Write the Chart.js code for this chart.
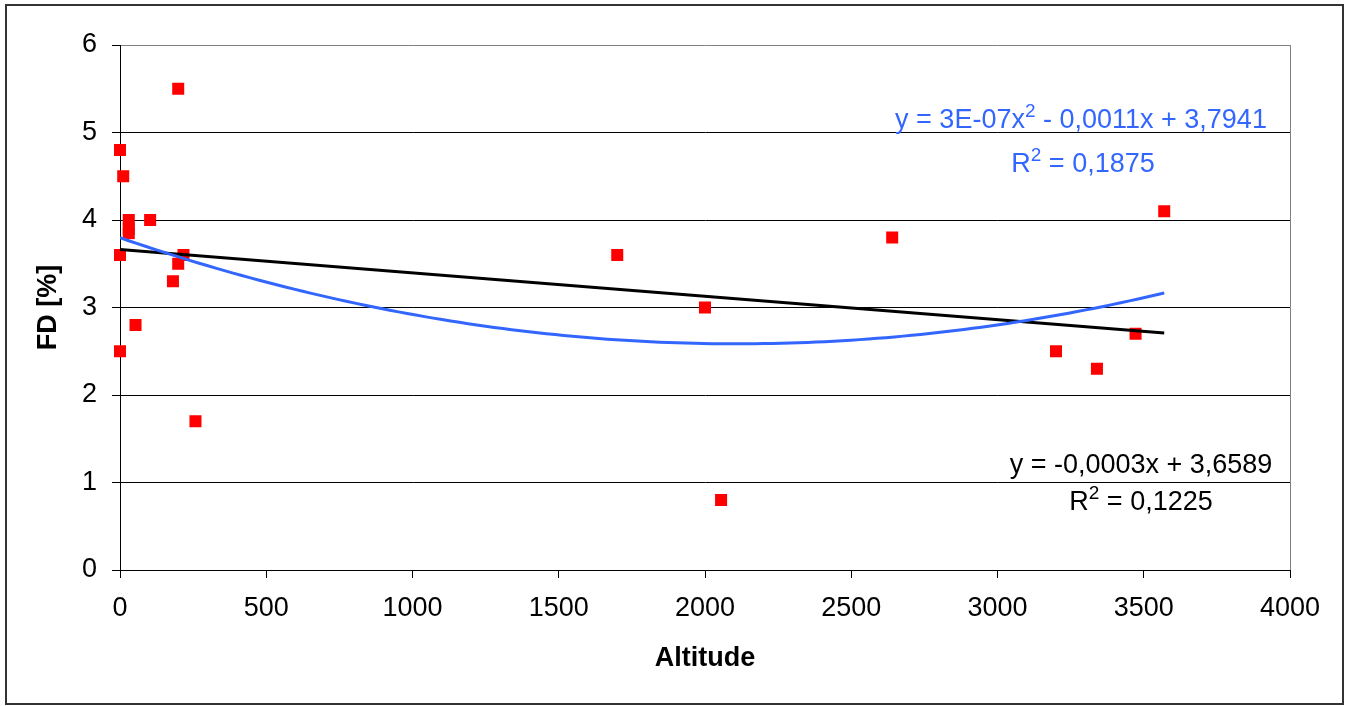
<!DOCTYPE html>
<html>
<head>
<meta charset="utf-8">
<script src="https://cdn.jsdelivr.net/npm/chart.js@4/dist/chart.umd.min.js"></script>
<style>
  html, body { margin: 0; padding: 0; background: #fff; overflow: hidden; }
  #wrap { width: 1349px; height: 706px; position: relative; }
</style>
</head>
<body>
<div id="wrap"><canvas id="chart" width="1349" height="706"></canvas></div>
<script>
// Observations: altitude (m) and FD (%)
const altitude = [0, 11, 30, 30, 30, 103, 0, 217, 199, 181, 53, 0, 258, 199,
                  1700, 2000, 2055, 2640, 3200, 3340, 3472, 3570];
const fdValues = [4.8, 4.5, 4.0, 3.9, 3.85, 4.0, 3.6, 3.6, 3.5, 3.3, 2.8, 2.5, 1.7, 5.5,
                  3.6, 3.0, 0.8, 3.8, 2.5, 2.3, 2.7, 4.1];

// Axis ranges and steps
const xRange = [0, 4000];
const xStep = 500;
const yRange = [0, 6];
const yStep = 1;

// Trendline equation labels (segments: [text, isSuperscript])
const polyEquation = [['y = 3E-07x', false], ['2', true], [' - 0,0011x + 3,7941', false]];
const polyR2 = [['R', false], ['2', true], [' = 0,1875', false]];
const linEquation = [['y = -0,0003x + 3,6589', false]];
const linR2 = [['R', false], ['2', true], [' = 0,1225', false]];

const FONT = "'Liberation Sans', Arial, sans-serif";
const BLUE = '#3366FF';

// Least-squares straight line
function linearFit(xs, ys) {
  const n = xs.length;
  let sx = 0, sy = 0, sxx = 0, sxy = 0;
  for (let i = 0; i < n; i++) {
    sx += xs[i]; sy += ys[i]; sxx += xs[i] * xs[i]; sxy += xs[i] * ys[i];
  }
  const m = (n * sxy - sx * sy) / (n * sxx - sx * sx);
  const b = (sy - m * sx) / n;
  return x => m * x + b;
}

// Least-squares second-order polynomial (x scaled to thousands for stability)
function quadFit(xs, ys) {
  const s = 1000;
  const S = [0, 0, 0, 0, 0];
  const T = [0, 0, 0];
  for (let i = 0; i < xs.length; i++) {
    const u = xs[i] / s;
    let p = 1;
    for (let k = 0; k < 5; k++) { S[k] += p; if (k < 3) T[k] += p * ys[i]; p *= u; }
  }
  const A = [[S[0], S[1], S[2], T[0]], [S[1], S[2], S[3], T[1]], [S[2], S[3], S[4], T[2]]];
  for (let c = 0; c < 3; c++) {
    for (let r = c + 1; r < 3; r++) {
      const f = A[r][c] / A[c][c];
      for (let k = c; k < 4; k++) A[r][k] -= f * A[c][k];
    }
  }
  const coef = [0, 0, 0];
  for (let r = 2; r >= 0; r--) {
    let v = A[r][3];
    for (let k = r + 1; k < 3; k++) v -= A[r][k] * coef[k];
    coef[r] = v / A[r][r];
  }
  return x => { const u = x / s; return coef[0] + coef[1] * u + coef[2] * u * u; };
}

const xMin = Math.min(...altitude);
const xMax = Math.max(...altitude);
const lin = linearFit(altitude, fdValues);
const quad = quadFit(altitude, fdValues);

const scatterPoints = altitude.map((x, i) => ({ x, y: fdValues[i] }));
const linPoints = [{ x: xMin, y: lin(xMin) }, { x: xMax, y: lin(xMax) }];
const quadPoints = [];
const steps = 120;
for (let i = 0; i <= steps; i++) {
  const x = xMin + (xMax - xMin) * i / steps;
  quadPoints.push({ x, y: quad(x) });
}

// Draws a line of text with superscripts, centred on cx, baseline at by
function drawRich(ctx, segments, cx, by, color, size) {
  const supSize = Math.round(size * 0.72);
  let total = 0;
  const widths = segments.map(([t, sup]) => {
    ctx.font = `${sup ? supSize : size}px ${FONT}`;
    const w = ctx.measureText(t).width;
    total += w;
    return w;
  });
  let x = cx - total / 2;
  ctx.fillStyle = color;
  ctx.textAlign = 'left';
  ctx.textBaseline = 'alphabetic';
  segments.forEach(([t, sup], i) => {
    ctx.font = `${sup ? supSize : size}px ${FONT}`;
    ctx.fillText(t, x, sup ? by - size * 0.4 : by);
    x += widths[i];
  });
}

const framePlugin = {
  id: 'frame',
  beforeDraw(chart) {
    const { ctx } = chart;
    ctx.save();
    ctx.fillStyle = '#fff';
    ctx.fillRect(0, 0, chart.width, chart.height);
    ctx.strokeStyle = '#333';
    ctx.lineWidth = 2;
    ctx.strokeRect(6, 5, chart.width - 12, chart.height - 7);
    ctx.restore();
  },
  afterDatasetsDraw(chart) {
    const { ctx, chartArea: a } = chart;
    ctx.save();
    // plot area right edge
    ctx.strokeStyle = '#808080';
    ctx.lineWidth = 1;
    ctx.beginPath();
    ctx.moveTo(a.right + 0.5, a.top);
    ctx.lineTo(a.right + 0.5, a.bottom);
    ctx.stroke();
    // trendline equations
    drawRich(ctx, polyEquation, a.right - 209, a.top + 83, BLUE, 27);
    drawRich(ctx, polyR2, a.right - 207, a.top + 127, BLUE, 27);
    drawRich(ctx, linEquation, a.right - 149, a.top + 428, '#000', 27);
    drawRich(ctx, linR2, a.right - 149, a.top + 465, '#000', 27);
    ctx.restore();
  }
};

new Chart(document.getElementById('chart'), {
  type: 'scatter',
  data: {
    datasets: [
      {
        label: 'Poly. (FD)',
        type: 'line',
        data: quadPoints,
        borderColor: BLUE,
        borderWidth: 3,
        pointRadius: 0,
        fill: false,
        tension: 0
      },
      {
        label: 'Linear (FD)',
        type: 'line',
        data: linPoints,
        borderColor: '#000',
        borderWidth: 3,
        pointRadius: 0,
        fill: false
      },
      {
        label: 'FD',
        data: scatterPoints,
        pointStyle: 'rect',
        pointRadius: 8.5,
        backgroundColor: '#FF0000',
        borderWidth: 0,
        clip: false
      }
    ]
  },
  options: {
    responsive: false,
    animation: false,
    devicePixelRatio: 1,
    layout: { padding: { left: 0, top: 45, right: 59, bottom: 0 } },
    plugins: { legend: { display: false }, tooltip: { enabled: false } },
    scales: {
      x: {
        type: 'linear',
        min: xRange[0],
        max: xRange[1],
        afterFit(scale) { scale.height = 136; },
        ticks: {
          stepSize: xStep,
          padding: 14,
          color: '#000',
          font: { family: FONT, size: 27 },
          maxRotation: 0,
          callback: v => String(v)
        },
        grid: { drawOnChartArea: false, drawTicks: true, tickLength: 8, tickColor: '#000', color: '#000' },
        border: { display: true, color: '#000', width: 1 },
        title: {
          display: true,
          text: 'Altitude',
          color: '#000',
          font: { family: FONT, size: 27, weight: 'bold', lineHeight: 1 },
          padding: { top: 0, bottom: 34 }
        }
      },
      y: {
        type: 'linear',
        min: yRange[0],
        max: yRange[1],
        afterFit(scale) { scale.width = 120; },
        ticks: {
          stepSize: yStep,
          padding: 15,
          color: '#000',
          font: { family: FONT, size: 27 },
          callback: v => String(v)
        },
        grid: {
          color: ctx => (ctx.tick && ctx.tick.value === yRange[1]) ? '#808080' : '#000',
          lineWidth: 1,
          drawTicks: true,
          tickLength: 8,
          tickColor: '#000'
        },
        border: { display: true, color: '#000', width: 1 },
        title: {
          display: true,
          text: 'FD [%]',
          color: '#000',
          font: { family: FONT, size: 27, weight: 'bold', lineHeight: 1 },
          padding: { top: 35, bottom: 0 }
        }
      }
    }
  },
  plugins: [framePlugin]
});
</script>
</body>
</html>
